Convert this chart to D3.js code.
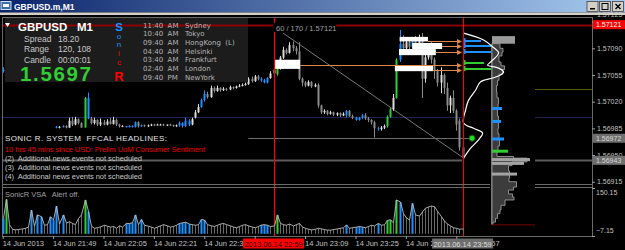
<!DOCTYPE html>
<html>
<head>
<meta charset="utf-8">
<script src="https://cdnjs.cloudflare.com/ajax/libs/d3/7.8.5/d3.min.js"></script>
<style>
body { margin: 0; background: #000; }
svg { display: block; font-family: "Liberation Sans", Arial, sans-serif; }
</style>
</head>
<body>
<svg id="chart" width="625" height="250"></svg>
<script>
// prices are kept in points (0.00001) above 1.56900
const pipBase = 1.569;

const opens = [
  160,162,168,166,165,167,166,164,165,163, 160,161,158,159,160,158,156,87,86,87,
  88,86,95,90,97,92,86,125,98,92, 96,90,93,90,94,91,96,90,88,88,
  87,88,87,93,88,89,88,89,90,89, 90,90,89,90,89,88,89,92,88,95,
  90,99,106,113,122,130,126,138,134,138, 135,137,136,139,138,140,141,142,143,150,
  147,153,150,148,145,151,157,156,164,178, 188,184,194,190,186,150,145,141,146,140,
  142,115,106,108,104,106,103,105,102,102, 108,101,99,96,99,102,98,96,93,85,
  84,86,88,100,110,125,175,196,190,198, 192,200,196,203,150,178,185,175,160,145,
  155,138,115,125,108,95,60];
const closes = [
  162,168,166,165,167,166,164,165,163,160, 161,158,159,160,158,156,157,86,87,88,
  86,95,90,97,92,86,125,98,92,96, 90,93,90,94,91,96,90,88,88,87,
  88,87,93,88,89,88,89,90,89,90, 90,89,90,89,88,89,92,88,95,90,
  97,106,113,122,130,126,138,134,138,135, 137,136,139,138,140,141,142,143,150,147,
  153,150,148,145,151,157,162,164,178,188, 184,194,190,186,150,145,141,146,140,142,
  115,106,108,104,106,103,105,102,104,108, 101,99,96,99,102,98,96,93,85,84,
  86,88,100,110,125,175,196,190,198,192, 200,196,203,150,178,185,175,160,145,155,
  138,115,125,108,90,60,46];
const highs = [
  165,171,169,167,168,168,167,166,166,164, 162,162,160,161,161,159,158,88,88,89,
  89,99,100,100,98,93,126,132,100,99, 97,98,96,97,99,100,98,91,89,88,
  89,89,94,94,90,90,90,91,91,91, 91,91,90,91,90,90,94,93,99,97,
  99,109,117,124,135,133,141,140,141,139, 139,138,141,140,141,143,144,145,152,153,
  155,155,152,150,152,160,163,166,180,192, 190,198,199,193,198,152,147,148,147,144,
  144,116,110,109,108,107,106,106,106,109, 109,103,100,100,104,105,100,97,95,87,
  88,90,102,112,130,177,214,207,204,202, 205,206,208,210,185,192,198,178,163,165,
  157,145,128,135,110,98,62];
const lows = [
  158,160,164,163,164,165,163,163,162,158, 159,156,157,158,157,155,155,85,85,86,
  85,86,88,89,90,86,86,97,90,90, 88,88,89,89,90,90,88,86,87,86,
  86,86,86,86,87,87,87,88,88,89, 89,88,88,88,87,87,87,86,87,88,
  89,98,105,112,120,124,125,132,133,133, 134,134,135,136,137,139,140,141,142,145,
  146,148,146,144,144,150,156,154,162,176, 182,183,186,182,148,140,139,140,138,139,
  112,104,104,102,103,101,101,100,101,99, 100,97,95,95,97,96,93,90,73,82,
  82,84,86,99,108,124,172,186,188,185, 190,188,194,125,145,175,170,150,140,131,
  130,108,105,105,82,56,44];
// SonicR VSA volumes and bar class (g normal, b blue, G green climax)
const vols = [
  51,113,30,15,13,14,16,18,22,78, 25,62,56,28,30,56,45,91,32,62,
  35,40,34,30,50,62,111,73,25,18, 20,23,28,25,22,24,18,26,22,34,
  34,36,62,30,47,28,25,22,18,22, 26,30,26,22,24,28,34,36,38,32,
  30,28,30,47,45,30,26,24,28,32, 34,30,26,22,20,24,28,30,26,22,
  20,24,29,30,28,24,26,62,34,30, 28,32,26,30,34,22,18,15,13,15,
  18,16,14,12,12,14,16,18,20,29, 18,20,22,24,22,20,24,28,26,34,
  28,30,44,46,36,111,104,66,52,45, 100,62,58,72,84,88,91,89,74,56,
  42,32,26,20,18,15,16];
const vsa = ("bGgggggggb" + "gbbggbbbgb" + "ggggggGbgg" + "gggggggggb" + "bbbgbggggg" +
  "ggggggbbbb" + "gggbbggggg" + "gggggggggg" + "ggbbbggGgg" + "gggggggggg" +
  "gggggggggb" + "ggbbbggggb" + "ggGGgGbggg" + "bggggggggg" + "ggggggg").split("");

const priceTicks = [1.57125, 1.57090, 1.57055, 1.57020, 1.56985, 1.56950, 1.56915];
const volTicks = [150.15, -7.15];
const timeTicks = ["21:33","21:49","22:05","22:21","22:37","22:53","23:09","23:25","23:41","23:57"];

// market profile on the right
const tpoPips = [210,201,192,184,172,168,164,159,155,151,146,135,122,109,92,85,79,70,59,46];
const tpoCount = [1,21,30,36,28,25,36,41,38,30,18,13,6,3,1,11,20,16,8,1];
const profPips = [196,190,185,180,172,167,162,156,148,141,133,125,117,109,101,93,85,78,70,62,54,48,
  46,41,36,29,20,15,8,4,-1,-5,-9,-16,-22,-27,-33,-38,-41];
const profLen = [6,10,12,8,6,12,13,8,6,5,4,6,7,5,6,7,6,6,8,7,5,5,
  38,32,8,25,10,24,25,18,15,26,18,8,10,6,5,2,0];
const hiPips = [111,94,71,55,44,39,25];
const hiLen = [10,9,12,16,38,32,25];
const hiKind = ["b","b","b","G","h","h","h"];

// text labels, arrows and levels
const labelBoxes = [[86.4,94.4,175,163],[126,135,205,199],[130,139.5,197,189],[125.8,137.5,189,181],[124.5,136.6,168,160]];
const arrowFrom = [135,139.5,137.5,94.4,136.6];
const arrowPips = [200,193,185,168,162];
const markPips = [200,193,185,171,163];
const markLen = [17,27,32,20,35];
const markKind = ["b","b","b","G","G"];

const headlines = ["(2)  Additional news events not scheduled",
  "(3)  Additional news events not scheduled",
  "(4)  Additional news events not scheduled"];
const sessions = [["11:40  AM","Sydney"],["10:40  AM","Tokyo"],["09:40  AM","HongKong  (L)"],
  ["04:40  AM","Helsinki"],["03:40  AM","Frankfurt"],["02:40  AM","London"],["09:40  PM","NewYork"]];

const svg = d3.select("#chart");
const t0 = new Date(2013, 5, 14, 21, 33);
const barTime = i => new Date(t0.getTime() + i * 60000);
const x = d3.scaleTime().domain([barTime(0), barTime(146)]).range([2.7, 462.6]);
const bx = i => x(barTime(i));
const y = d3.scaleLinear().domain([1.56915, 1.57090]).range([181.7, 48.3]);
const py = p => y(pipBase + p / 100000);
const yv = d3.scaleLinear().domain([-7.15, 150.15]).range([236, 188]);
const colBlue = "#1e90ff", colGreen = "#32cd32";

svg.append("rect").attr("width", 625).attr("height", 250).attr("fill", "#000");

// horizontal levels
function hline(p, x1, x2, col, w) {
  svg.append("line").attr("x1", x1).attr("x2", x2).attr("y1", Math.round(py(p)) + 0.5).attr("y2", Math.round(py(p)) + 0.5)
    .attr("stroke", col).attr("stroke-width", w || 1);
}
hline(100, 2, 462, "#23234f"); hline(100, 535, 592, "#23234f");
hline(137, 535, 592, "#5a5a10");
hline(43, 2, 462, "#5c5c5c", 2); hline(43, 535, 592, "#5c5c5c", 2);
hline(72, bx(78), bx(149), "#6e6e6e");

// trend line
svg.append("line").attr("x1", bx(89)).attr("y1", py(210)).attr("x2", bx(146)).attr("y2", py(47))
  .attr("stroke", "#777").attr("stroke-width", 1);

// candles
const bars = opens.map((o, i) => ({ i, o, c: closes[i], h: highs[i], l: lows[i], v: vols[i], k: vsa[i] }));
const barCol = d => d.k === "b" ? colBlue : d.k === "G" ? colGreen : (d.c >= d.o ? "#dcdcdc" : "#8c8c8c");
const gC = svg.append("g");
gC.selectAll("line").data(bars).join("line")
  .attr("x1", d => Math.round(bx(d.i)) + 0.5).attr("x2", d => Math.round(bx(d.i)) + 0.5)
  .attr("y1", d => py(d.h)).attr("y2", d => py(d.l))
  .attr("stroke", barCol).attr("stroke-width", 1);
gC.selectAll("rect").data(bars).join("rect")
  .attr("x", d => Math.round(bx(d.i)) - 0.5).attr("width", 2)
  .attr("y", d => py(Math.max(d.o, d.c)))
  .attr("height", d => Math.max(1, Math.abs(py(d.o) - py(d.c))))
  .attr("fill", barCol);

// info panel
svg.append("rect").attr("x", 5).attr("y", 17).attr("width", 243).attr("height", 65).attr("fill", "#1c1c1c");
hline(221, 2, 273, "#8b0000", 2); hline(221, 336, 592, "#8b0000", 2);

svg.append("path").attr("d", "M5,23 L10,23 L7.5,27 Z").attr("fill", "#fff");
svg.append("text").attr("x", 18).attr("y", 31).attr("fill", "#fff").attr("font-weight", "bold")
  .attr("font-size", 11.5).text("GBPUSD");
svg.append("text").attr("x", 77).attr("y", 31).attr("fill", "#fff").attr("font-weight", "bold")
  .attr("font-size", 11.5).text("M1");
[["Spread", "18.20", 41.5], ["Range", "120, 108", 52], ["Candle", "00:00:01", 62.5]].forEach(r => {
  svg.append("text").attr("x", 24).attr("y", r[2]).attr("fill", "#c8c8c8").attr("font-size", 8.5).text(r[0]);
  svg.append("text").attr("x", 58).attr("y", r[2]).attr("fill", "#c8c8c8").attr("font-size", 8.5).text(r[1]);
});
svg.append("text").attr("x", 20).attr("y", 80.5).attr("fill", colGreen).attr("font-weight", "bold")
  .attr("font-size", 20.5).attr("textLength", 71).text("1.5697");
[["S", 30.5, 11.5, colBlue, "bold"], ["o", 38.5, 8, colBlue, "normal"], ["n", 47, 8, colBlue, "normal"],
 ["i", 56, 8, "#ff0000", "normal"], ["c", 64.5, 8, "#ff0000", "normal"], ["R", 80.5, 13, "#ff0000", "bold"]]
  .forEach(s => svg.append("text").attr("x", 119).attr("y", s[1]).attr("text-anchor", "middle")
    .attr("fill", s[3]).attr("font-size", s[2]).attr("font-weight", s[4]).text(s[0]));
sessions.forEach((s, i) => {
  const yy = 27.5 + i * 8.67;
  svg.append("text").attr("x", 143).attr("y", yy).attr("fill", "#b4b4b4").attr("font-size", 7)
    .attr("font-family", "DejaVu Sans").style("white-space", "pre").text(s[0]);
  svg.append("text").attr("x", 185).attr("y", yy).attr("fill", "#b4b4b4").attr("font-size", 7)
    .attr("font-family", "DejaVu Sans").style("white-space", "pre").text(s[1]);
});

// news headlines
svg.append("text").attr("x", 5).attr("y", 141).attr("fill", "#e6e6e6").attr("font-size", 8)
  .attr("textLength", 162).style("white-space", "pre").text("SONIC R. SYSTEM  FFCAL HEADLINES:");
svg.append("text").attr("x", 5).attr("y", 151.5).attr("fill", "#ee0000").attr("font-size", 7.5)
  .attr("textLength", 200).text("10 hrs 45 mins since USD: Prelim UoM Consumer Sentiment");
headlines.forEach((h, i) => svg.append("text").attr("x", 5).attr("y", 160.5 + i * 9).attr("fill", "#c8c8c8")
  .attr("font-size", 7.5).attr("textLength", 137).style("white-space", "pre").text(h));

// drawn labels and arrows
svg.selectAll(".lbox").data(labelBoxes).join("rect").attr("class", "lbox")
  .attr("x", d => bx(d[0])).attr("width", d => bx(d[1]) - bx(d[0]))
  .attr("y", d => py(d[2])).attr("height", d => py(d[3]) - py(d[2])).attr("fill", "#fff");
arrowPips.forEach((p, i) => {
  const yy = Math.round(py(p)) + 0.5;
  svg.append("line").attr("x1", bx(arrowFrom[i])).attr("x2", 458).attr("y1", yy).attr("y2", yy)
    .attr("stroke", "#e0884a").attr("stroke-width", 1);
  svg.append("path").attr("d", `M457,${yy - 2.5} L462,${yy} L457,${yy + 2.5} Z`).attr("fill", "#e0884a");
});
markPips.forEach((p, i) => {
  const yy = Math.round(py(p));
  svg.append("rect").attr("x", 464).attr("y", yy - 1).attr("width", markLen[i]).attr("height", 2)
    .attr("fill", markKind[i] === "b" ? colBlue : colGreen);
  svg.append("rect").attr("x", 464).attr("y", yy - 3).attr("width", 1.5).attr("height", 5)
    .attr("fill", markKind[i] === "b" ? colBlue : colGreen);
});

// volume profile histogram
const xh = d3.scaleLinear().domain([0, 40]).range([492, 532]);
const profRows = profPips.map((p, i) => ({ p, n: profLen[i] }));
svg.append("path").datum(profRows)
  .attr("d", d3.area().curve(d3.curveStep).y(d => py(d.p)).x0(xh(0)).x1(d => xh(d.n)))
  .attr("fill", "#3c3c3c").attr("stroke", "#a8a8a8").attr("stroke-width", 0.8);
svg.append("rect").attr("x", xh(0)).attr("y", py(206)).attr("width", xh(23) - xh(0))
  .attr("height", py(196) - py(206)).attr("fill", "#9a9a9a");
hiPips.forEach((p, i) => svg.append("rect").attr("x", xh(0)).attr("y", py(p) - 1.5)
  .attr("width", xh(hiLen[i]) - xh(0)).attr("height", 3)
  .attr("fill", hiKind[i] === "b" ? colBlue : hiKind[i] === "G" ? colGreen : "#a4a4a4"));
svg.append("line").attr("x1", 491.5).attr("x2", 491.5).attr("y1", py(196)).attr("y2", py(-41)).attr("stroke", "#777");
svg.append("line").attr("x1", 492).attr("x2", 535).attr("y1", py(-41) + 0.5).attr("y2", py(-41) + 0.5).attr("stroke", "#7a0000");

// TPO curve
const xt = d3.scaleLinear().domain([0, 40]).range([462.6, 502.6]);
svg.append("path").datum(tpoPips.map((p, i) => ({ p, n: tpoCount[i] })))
  .attr("d", d3.line().curve(d3.curveCatmullRom).x(d => xt(d.n)).y(d => py(d.p)))
  .attr("fill", "none").attr("stroke", "#fff").attr("stroke-width", 1.2);

// time separators
[86, 146].forEach(i => svg.append("line").attr("x1", Math.round(bx(i)) + 0.5).attr("x2", Math.round(bx(i)) + 0.5)
  .attr("y1", 18).attr("y2", 236).attr("stroke", "#ff0000").attr("stroke-width", 1.2));
svg.append("circle").attr("cx", bx(149)).attr("cy", py(72)).attr("r", 3).attr("fill", "#22dd22").attr("stroke", "#0a5a0a");

svg.append("rect").attr("x", 274).attr("y", 23).attr("width", 62).attr("height", 9).attr("fill", "#000");
svg.append("text").attr("x", 276).attr("y", 31).attr("fill", "#a0a0a0").attr("font-size", 7.5).text("60 / 170 / 1.57121");

// window frames
const frame = [[2, 17.5, 592, 17.5], [2, 184.5, 490, 184.5], [535, 184.5, 592, 184.5],
  [2, 187.5, 490, 187.5], [535, 187.5, 592, 187.5], [2, 236.5, 592, 236.5], [2.5, 17, 2.5, 237], [592.5, 17, 592.5, 237]];
frame.forEach(f => svg.append("line").attr("x1", f[0]).attr("y1", f[1]).attr("x2", f[2]).attr("y2", f[3])
  .attr("stroke", "#6a6a6a").attr("stroke-width", 1));

// volume sub-window
const gV = svg.append("g");
gV.selectAll("line").data(bars).join("line")
  .attr("x1", d => Math.round(bx(d.i)) + 0.5).attr("x2", d => Math.round(bx(d.i)) + 0.5)
  .attr("y1", yv(0)).attr("y2", d => yv(d.v))
  .attr("stroke", d => d.k === "b" ? colBlue : d.k === "G" ? colGreen : "#6a6a6a")
  .attr("stroke-width", d => d.k === "g" ? 1 : 2);
gV.append("path").datum(bars)
  .attr("d", d3.line().x(d => Math.round(bx(d.i)) + 0.5).y(d => yv(d.v)))
  .attr("fill", "none").attr("stroke", "#bdbdbd").attr("stroke-width", 0.9);
svg.append("text").attr("x", 5).attr("y", 197).attr("fill", "#a0a0a0").attr("font-size", 7.5)
  .style("white-space", "pre").text("SonicR VSA   Alert off.");

// price axis
const gP = svg.append("g").attr("transform", "translate(592,0)")
  .call(d3.axisRight(y).tickValues(priceTicks).tickFormat(d3.format(".5f")).tickSize(3));
gP.select(".domain").remove();
gP.selectAll("line").attr("stroke", "#a0a0a0");
gP.selectAll("text").attr("x", 5).attr("fill", "#c0c0c0").style("font-size", "7px").style("font-family", "Liberation Sans");
gP.selectAll(".tick").filter(d => d === 1.57125).select("text").attr("y", -7);

function priceBox(p, bg, fg) {
  const yy = y(p);
  svg.append("rect").attr("x", 593).attr("y", yy - 4.5).attr("width", 32).attr("height", 9).attr("fill", bg);
  svg.append("text").attr("x", 596).attr("y", yy + 2.5).attr("fill", fg).attr("font-size", 7).text(d3.format(".5f")(p));
}
priceBox(1.57121, "#ff0000", "#fff");
priceBox(1.56972, "#6e6e6e", "#d8d8d8");
priceBox(1.56943, "#6e6e6e", "#d8d8d8");

const gVA = svg.append("g").attr("transform", "translate(592,0)")
  .call(d3.axisRight(yv).tickValues(volTicks).tickFormat(d3.format(".2f")).tickSize(3));
gVA.select(".domain").remove();
gVA.selectAll("line").attr("stroke", "#a0a0a0");
gVA.selectAll("text").attr("x", 4).attr("fill", "#c0c0c0").style("font-size", "7px").style("font-family", "Liberation Sans")
  .attr("y", d => d > 0 ? 4 : -6);

// time axis
const parseT = d3.timeParse("%Y-%m-%d %H:%M");
const gT = svg.append("g").attr("transform", "translate(0,236)")
  .call(d3.axisBottom(x).tickValues(timeTicks.map(s => parseT("2013-06-14 " + s)))
    .tickFormat((d, i) => i === 0 ? "14 Jun 2013" : d3.timeFormat("14 Jun %H:%M")(d)).tickSize(3));
gT.select(".domain").remove();
gT.selectAll("line").attr("stroke", "#a0a0a0");
gT.selectAll("text").attr("text-anchor", "start").attr("x", -0.5).attr("y", 9.5).attr("dy", 0)
  .attr("fill", "#c0c0c0").style("font-size", "7.5px").style("font-family", "Liberation Sans");

function timeBox(i, bg, fg) {
  const cx = bx(i);
  svg.append("rect").attr("x", cx - 30.5).attr("y", 238.5).attr("width", 61).attr("height", 10).attr("fill", bg);
  svg.append("text").attr("x", cx).attr("y", 246.5).attr("text-anchor", "middle").attr("fill", fg)
    .attr("font-size", 7.5).text(d3.timeFormat("%Y.%m.%d %H:%M")(barTime(i)));
}
timeBox(86, "#ff0000", "#2a0000");
timeBox(146, "#6e6e6e", "#dcdcdc");

// title bar
const grad = svg.append("defs").append("linearGradient").attr("id", "tb");
grad.append("stop").attr("offset", 0).attr("stop-color", "#0a246a");
grad.append("stop").attr("offset", 1).attr("stop-color", "#a6caf0");
svg.append("rect").attr("x", 0).attr("y", 0).attr("width", 625).attr("height", 12.5).attr("fill", "url(#tb)");
svg.append("rect").attr("x", 0).attr("y", 12.5).attr("width", 625).attr("height", 2.5).attr("fill", "#d4d0c8");
svg.append("rect").attr("x", 1).attr("y", 1.5).attr("width", 10).attr("height", 8).attr("fill", "#3a6ea5").attr("stroke", "#cfe0f4");
svg.append("rect").attr("x", 3).attr("y", 4).attr("width", 6).attr("height", 3).attr("fill", "#fff");
svg.append("text").attr("x", 14).attr("y", 10).attr("fill", "#fff").attr("font-weight", "bold")
  .attr("font-size", 8.5).text("GBPUSD.m,M1");
[587, 599.5, 612.5].forEach((bx0, i) => {
  svg.append("rect").attr("x", bx0).attr("y", 1.5).attr("width", 11).attr("height", 10)
    .attr("fill", "#d4d0c8").attr("stroke", "#404040").attr("stroke-width", 0.8);
  if (i === 0) svg.append("rect").attr("x", bx0 + 3).attr("y", 8).attr("width", 5).attr("height", 1.5).attr("fill", "#000");
  if (i === 1) svg.append("rect").attr("x", bx0 + 2.5).attr("y", 3.5).attr("width", 6).attr("height", 6)
    .attr("fill", "none").attr("stroke", "#000").attr("stroke-width", 1);
  if (i === 2) svg.append("path").attr("d", `M${bx0 + 3},4 L${bx0 + 8},9 M${bx0 + 8},4 L${bx0 + 3},9`)
    .attr("stroke", "#000").attr("stroke-width", 1.4);
});
</script>
</body>
</html>
